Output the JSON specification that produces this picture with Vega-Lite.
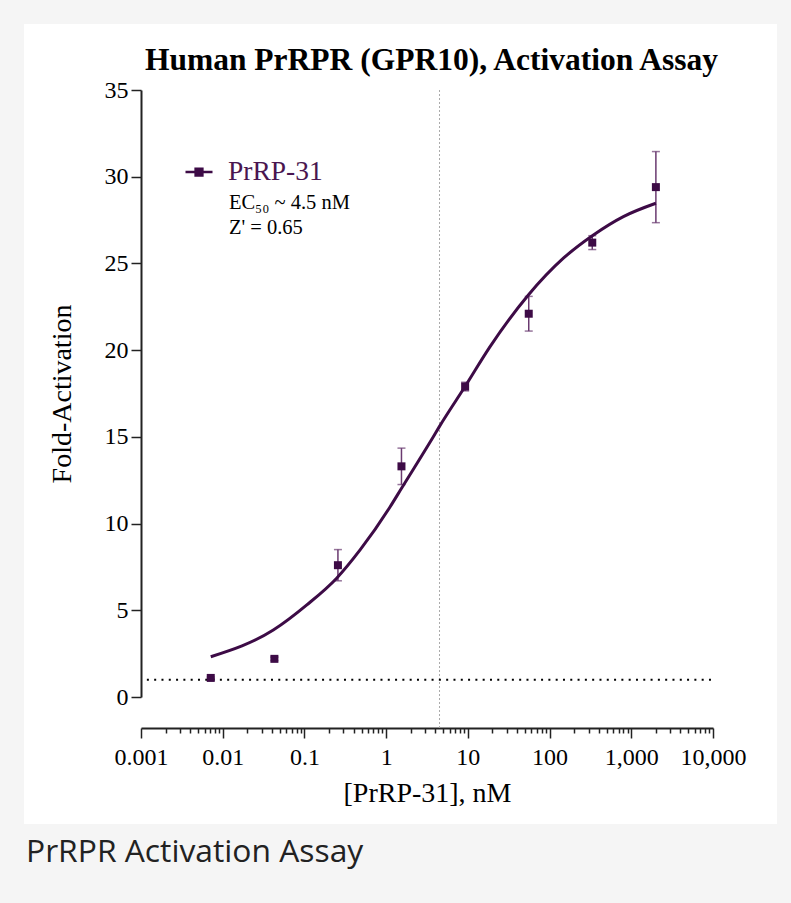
{
  "$schema": "https://vega.github.io/schema/vega-lite/v6.json",
  "padding": {"left": 24, "top": 24, "right": 14, "bottom": 60},
  "background": "#f5f5f5",
  "config": {"view": {"stroke": null}, "axis": {"grid": false}},
  "datasets": {
    "points": [
      {"conc": 0.00714, "fold": 1.1, "sem": 0.05, "series": "PrRP-31"},
      {"conc": 0.0429, "fold": 2.2, "sem": 0.1, "series": "PrRP-31"},
      {"conc": 0.257, "fold": 7.6, "sem": 0.9, "series": "PrRP-31"},
      {"conc": 1.54, "fold": 13.3, "sem": 1.05, "series": "PrRP-31"},
      {"conc": 9.26, "fold": 17.9, "sem": 0.25, "series": "PrRP-31"},
      {"conc": 55.6, "fold": 22.1, "sem": 1.0, "series": "PrRP-31"},
      {"conc": 333, "fold": 26.2, "sem": 0.4, "series": "PrRP-31"},
      {"conc": 2000, "fold": 29.4, "sem": 2.05, "series": "PrRP-31"}
    ],
    "curve": [
      {"conc": 0.00714, "fold": 2.32},
      {"conc": 0.0416, "fold": 3.86},
      {"conc": 0.107, "fold": 5.31},
      {"conc": 0.248, "fold": 6.85},
      {"conc": 0.48, "fold": 8.48},
      {"conc": 1.12, "fold": 10.97},
      {"conc": 1.55, "fold": 12.05},
      {"conc": 3.78, "fold": 15.01},
      {"conc": 4.48, "fold": 15.59},
      {"conc": 9.24, "fold": 17.9},
      {"conc": 18.7, "fold": 20.2},
      {"conc": 55, "fold": 23.18},
      {"conc": 147.6, "fold": 25.3},
      {"conc": 344, "fold": 26.64},
      {"conc": 800, "fold": 27.7},
      {"conc": 2000, "fold": 28.47}
    ]
  },
  "title": {
    "text": "PrRPR Activation Assay",
    "orient": "bottom",
    "anchor": "start",
    "font": "Open Sans",
    "fontSize": 31.8,
    "fontWeight": "normal",
    "color": "#222222",
    "offset": 38,
    "baseline": "alphabetic",
    "dx": 2
  },
  "vconcat": [
    {
      "width": 753,
      "height": 800,
      "view": {"fill": "white", "stroke": null},
      "title": {
        "text": "Human PrRPR (GPR10), Activation Assay",
        "font": "Liberation Serif",
        "fontSize": 31.5,
        "fontWeight": "bold",
        "color": "black",
        "anchor": "middle",
        "baseline": "alphabetic",
        "dx": 31,
        "offset": 0,
        "dy": 77
      },
      "layer": [
        {
          "data": {"name": "points"},
          "mark": {"type": "errorbar", "ticks": {"size": 8, "thickness": 1.5}, "thickness": 1.5, "color": "#6a3a70"},
          "encoding": {
            "x": {
              "field": "conc",
              "type": "quantitative",
              "scale": {"type": "log", "domain": [0.001, 10000], "range": [117, 689], "nice": false},
              "axis": {
                "values": [0.001, 0.002, 0.003, 0.004, 0.005, 0.006, 0.007, 0.008, 0.009,
                           0.01, 0.02, 0.03, 0.04, 0.05, 0.06, 0.07, 0.08, 0.09,
                           0.1, 0.2, 0.3, 0.4, 0.5, 0.6, 0.7, 0.8, 0.9,
                           1, 2, 3, 4, 5, 6, 7, 8, 9,
                           10, 20, 30, 40, 50, 60, 70, 80, 90,
                           100, 200, 300, 400, 500, 600, 700, 800, 900,
                           1000, 2000, 3000, 4000, 5000, 6000, 7000, 8000, 9000, 10000],
                "labelExpr": "abs(log(datum.value)/LN10 - round(log(datum.value)/LN10)) < 0.001 ? format(datum.value, ',') : ''",
                "labelOverlap": false,
                "labelFlush": false,
                "labelBound": false,
                "labelFont": "Liberation Serif",
                "labelFontSize": 24,
                "labelColor": "black",
                "labelPadding": 7,
                "tickSize": {"condition": {"test": "abs(log(datum.value)/LN10 - round(log(datum.value)/LN10)) < 0.001", "value": 10}, "value": 5},
                "tickColor": "#222222",
                "tickWidth": 1.5,
                "domainColor": "#222222",
                "domainWidth": 2,
                "offset": -96,
                "title": "[PrRP-31], nM",
                "titleFont": "Liberation Serif",
                "titleFontSize": 28,
                "titleFontWeight": "normal",
                "titleColor": "black",
                "titlePadding": 10
              }
            },
            "y": {
              "field": "fold",
              "type": "quantitative",
              "scale": {"domain": [0, 35], "range": [673, 66], "nice": false, "zero": false},
              "axis": {
                "values": [0, 5, 10, 15, 20, 25, 30, 35],
                "labelFont": "Liberation Serif",
                "labelFontSize": 24,
                "labelColor": "black",
                "labelPadding": 3,
                "tickSize": 10,
                "tickColor": "#222222",
                "tickWidth": 1.5,
                "domainColor": "#222222",
                "domainWidth": 2,
                "offset": -117,
                "title": "Fold-Activation",
                "titleFont": "Liberation Serif",
                "titleFontSize": 28,
                "titleFontWeight": "normal",
                "titleColor": "black",
                "titlePadding": 28
              }
            },
            "yError": {"field": "sem"}
          }
        },
        {
          "data": {"values": [{}]},
          "mark": {"type": "rule", "color": "#aaaaaa", "strokeWidth": 1, "strokeDash": [2, 2]},
          "encoding": {"x": {"datum": 4.5}, "y": {"datum": 35}, "y2": {"datum": -1.79}}
        },
        {
          "data": {"values": [{}]},
          "mark": {"type": "rule", "color": "black", "strokeWidth": 2, "strokeDash": [2, 5.3]},
          "encoding": {"x": {"datum": 0.00118}, "x2": {"datum": 9800}, "y": {"datum": 1}}
        },
        {
          "data": {"name": "curve"},
          "mark": {"type": "line", "color": "#3d0b46", "strokeWidth": 3, "interpolate": "monotone"},
          "encoding": {
            "x": {"field": "conc", "type": "quantitative"},
            "y": {"field": "fold", "type": "quantitative"}
          }
        },
        {
          "data": {"name": "points"},
          "mark": {"type": "point", "shape": "square", "filled": true, "size": 64, "opacity": 1},
          "encoding": {
            "x": {"field": "conc", "type": "quantitative"},
            "y": {"field": "fold", "type": "quantitative"},
            "color": {
              "field": "series",
              "type": "nominal",
              "scale": {"domain": ["PrRP-31"], "range": ["#3d0b46"]},
              "legend": {
                "orient": "none",
                "legendX": 160,
                "legendY": 133,
                "title": null,
                "padding": 0,
                "symbolType": "M-1,0H1M-0.25,-0.25H0.25V0.25H-0.25Z",
                "symbolSize": 729,
                "symbolStrokeWidth": 2.5,
                "symbolStrokeColor": "#3d0b46",
                "symbolFillColor": "#3d0b46",
                "labelFont": "Liberation Serif",
                "labelFontSize": 27.5,
                "labelColor": "#4a1650",
                "labelOffset": 14
              }
            }
          }
        },
        {
          "data": {"values": [{"note": "EC₅₀ ~ 4.5 nM\nZ' = 0.65"}]},
          "mark": {"type": "text", "align": "left", "baseline": "alphabetic", "font": "Liberation Serif", "fontSize": 20.5, "lineBreak": "\n", "lineHeight": 25, "color": "black"},
          "encoding": {"x": {"datum": 0.0119}, "y": {"datum": 28.13}, "text": {"field": "note"}}
        }
      ]
    }
  ]
}
